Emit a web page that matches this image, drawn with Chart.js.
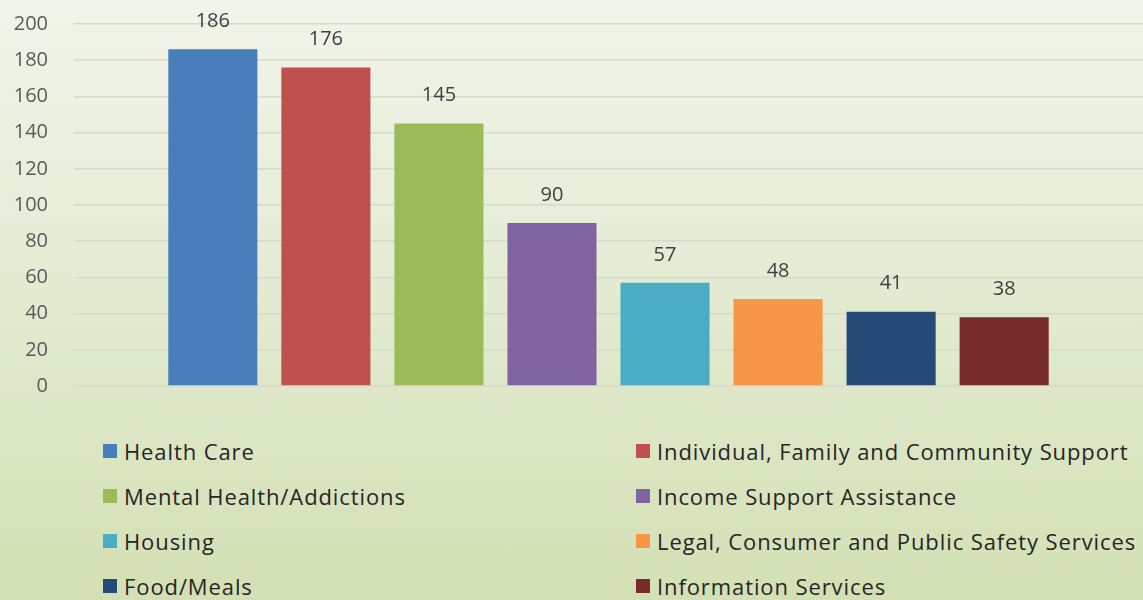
<!DOCTYPE html>
<html>
<head>
<meta charset="utf-8">
<script src="https://cdn.jsdelivr.net/npm/chart.js@4/dist/chart.umd.min.js"></script>
<style>
  html, body { margin: 0; padding: 0; }
  body {
    width: 1143px; height: 600px; overflow: hidden; position: relative;
    background: linear-gradient(180deg, #f1f4ea 0%, #e4ecd4 45%, #d3e0b3 100%);
    font-family: "Open Sans", sans-serif;
  }
  #wrap { position: absolute; left: 0; top: -14px; width: 1143px; height: 438px; }
  #legend {
    position: absolute; left: 103px; top: 428px; width: 1040px;
    display: grid; grid-template-columns: 533px auto; grid-auto-rows: 45px;
  }
  .item { display: flex; align-items: center; font-size: 22px; letter-spacing: 0.9px; color: #262626; height: 45px; }
  .box { width: 14px; height: 14px; margin-right: 7px; flex: none; }
</style>
</head>
<body>
<div id="wrap"><canvas id="chart"></canvas></div>
<div id="legend"></div>
<script>
  // categories and values
  const categories = [
    "Health Care",
    "Individual, Family and Community Support",
    "Mental Health/Addictions",
    "Income Support Assistance",
    "Housing",
    "Legal, Consumer and Public Safety Services",
    "Food/Meals",
    "Information Services"
  ];
  const counts = [186, 176, 145, 90, 57, 48, 41, 38];
  const colors = ["#4a7ebb", "#c0504d", "#9bbb59", "#8064a2", "#4bacc6", "#f79646", "#264a78", "#772c2a"];

  // value labels above each bar
  const valueLabels = {
    id: "valueLabels",
    afterDatasetsDraw(chart) {
      const ctx = chart.ctx;
      ctx.save();
      ctx.font = "20px 'Open Sans', sans-serif";
      ctx.fillStyle = "#404040";
      ctx.textAlign = "center";
      ctx.textBaseline = "middle";
      chart.data.datasets.forEach((ds, i) => {
        const bar = chart.getDatasetMeta(i).data[0];
        ctx.fillText(String(ds.data[0]), bar.x, bar.y - 28);
      });
      ctx.restore();
    }
  };

  const chart = new Chart(document.getElementById("chart"), {
    type: "bar",
    data: {
      labels: [""],
      datasets: categories.map((name, i) => ({
        label: name,
        data: [counts[i]],
        backgroundColor: colors[i],
        categoryPercentage: 0.846,
        barPercentage: 0.788
      }))
    },
    options: {
      responsive: true,
      maintainAspectRatio: false,
      animation: false,
      layout: { padding: { top: 1, bottom: 15, left: 0, right: 0 } },
      scales: {
        x: { display: false },
        y: {
          min: 0,
          max: 200,
          ticks: { stepSize: 20, padding: 26, color: "#595959", font: { size: 20, family: "'Open Sans', sans-serif" } },
          grid: { color: "#d6dacd", drawTicks: false, lineWidth: 1.5 },
          border: { display: false },
          afterFit(scale) { scale.width = 74; }
        }
      },
      plugins: {
        legend: { display: false },
        tooltip: { enabled: false }
      }
    },
    plugins: [valueLabels]
  });

  const legend = document.getElementById("legend");
  categories.forEach((name, i) => {
    const item = document.createElement("div");
    item.className = "item";
    item.innerHTML = `<span class="box" style="background:${colors[i]}"></span><span>${name}</span>`;
    legend.appendChild(item);
  });
</script>
</body>
</html>
